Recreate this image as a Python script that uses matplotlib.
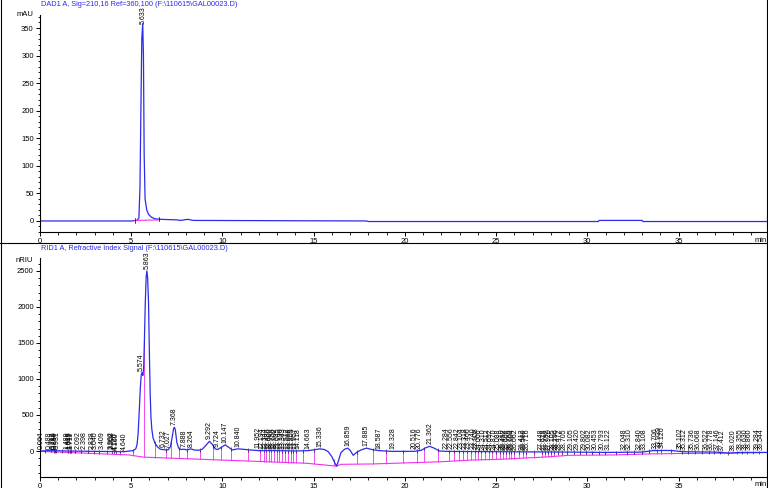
import numpy as np
import matplotlib.pyplot as plt
from matplotlib.lines import Line2D
from matplotlib.ticker import MultipleLocator

plt.rcParams['font.family'] = ['Liberation Sans', 'DejaVu Sans']

BLUE = '#2b2bea'
PINK = '#f030f0'

# --- DAD1 A trace (time in min, signal in mAU)
dad_time = [0.0, 5.0, 5.3, 5.42, 5.48, 5.53, 5.58, 5.63, 5.67, 5.71, 5.76, 5.85,
            5.95, 6.1, 6.3, 6.6, 7.5, 7.7, 8.1, 8.4, 17.9, 18.0, 30.6, 30.65,
            33.0, 33.05, 39.9]
dad_signal = [0, 0, 1, 5, 60, 200, 330, 358, 300, 120, 40, 20,
              12, 7, 4, 3, 2, 1, 3, 1, 0, -1, -1, 1,
              1, -1, -1]
dad_peaks = [5.633]
dad_base_time = [5.2, 6.55]
dad_base_signal = [1, 2]

# --- RID1 A trace (time in min, signal in nRIU)
rid_time = [0.0, 0.5, 1.5, 3.0, 4.6, 4.9, 5.1, 5.25, 5.32, 5.38, 5.44, 5.50, 5.55,
            5.59, 5.64, 5.68, 5.72, 5.77, 5.82, 5.86, 5.90, 5.95, 6.00, 6.04,
            6.08, 6.13, 6.2, 6.3, 6.45, 6.6, 6.73, 6.9, 7.03, 7.15, 7.25, 7.32,
            7.37, 7.42, 7.5, 7.6, 7.75, 7.89, 8.05, 8.26, 8.45, 8.7, 8.9, 9.1,
            9.29, 9.45, 9.6, 9.72, 9.9, 10.15, 10.35, 10.55, 10.84, 11.1, 11.5,
            12.0, 13.0, 14.0, 14.7, 15.1, 15.34, 15.6, 15.8, 16.0, 16.15, 16.26,
            16.38, 16.5, 16.7, 16.86, 17.0, 17.17, 17.35, 17.6, 17.89, 18.2,
            18.6, 19.3, 20.5, 20.9, 21.1, 21.36, 21.6, 21.9, 22.3, 25.0, 29.0,
            31.0, 33.0, 33.6, 34.3, 34.7, 35.2, 37.0, 37.8, 38.3, 39.9]
rid_signal = [0, 5, 0, -5, -10, 0, 5, 30, 90, 250, 550, 880, 1060,
              1090, 1050, 1150, 1500, 2050, 2420, 2500, 2400, 2050, 1300, 800,
              480, 300, 180, 110, 55, 25, 20, 15, 18, 60, 200, 310,
              330, 290, 120, 40, 20, 25, 15, 30, 15, 10, 25, 80,
              135, 90, 30, 20, 45, 85, 50, 15, 30, 25, 15,
              5, 5, 0, 5, 20, 30, 20, -10, -80, -160, -210,
              -120, -20, 25, 40, 10, -60, -20, 15, 40, 20,
              5, -5, -5, 10, 40, 65, 40, 0, -5, -10, -15,
              -20, -15, 5, 8, 5, -10, -15, -30, -20, -20]
rid_base_time = [0.0, 4.9, 5.66, 12.0, 14.6, 16.26, 16.5, 18.2, 21.9, 23.7,
                 25.2, 27.6, 29.0, 31.4, 33.5, 35.0, 37.5, 39.6]
rid_base_signal = [-5, -55, -85, -145, -170, -210, -185, -180, -150, -125,
                   -115, -85, -60, -55, -40, -35, -30, -22]
rid_peaks = [0.064, 0.488, 0.712, 0.789, 0.850, 0.931, 1.489, 1.615, 1.649,
             1.711, 2.092, 2.398, 2.838, 3.040, 3.409, 3.902, 3.958, 4.120,
             4.160, 4.640, 5.574, 5.863, 6.732, 7.027, 7.368, 7.888, 8.264,
             9.292, 9.724, 10.147, 10.840, 11.952, 12.194, 12.344, 12.486,
             12.600, 12.750, 12.902, 13.045, 13.190, 13.343, 13.512, 13.668,
             13.809, 13.957, 14.118, 14.663, 15.336, 16.859, 17.885, 18.587,
             19.328, 20.516, 20.776, 21.362, 22.284, 22.556, 22.842, 23.104,
             23.318, 23.466, 23.740, 23.908, 24.066, 24.310, 24.512, 24.692,
             24.870, 25.088, 25.310, 25.452, 25.608, 25.760, 25.904, 26.062,
             26.412, 26.560, 26.716, 27.448, 27.618, 27.792, 27.920, 28.105,
             28.296, 28.472, 28.705, 29.105, 29.420, 29.802, 30.082, 30.453,
             30.793, 31.122, 32.048, 32.310, 32.840, 33.108, 33.706, 33.939,
             34.120, 35.102, 35.312, 35.736, 36.068, 36.522, 36.778, 37.146,
             37.412, 38.020, 38.355, 38.630, 38.860, 39.284, 39.544]

fig = plt.figure(figsize=(7.68, 4.88), dpi=100)
W, H = 768, 488
ax1 = fig.add_axes([40 / W, 1 - 232 / H, 727 / W, 217 / H])
ax2 = fig.add_axes([40 / W, 1 - 477 / H, 727 / W, 219 / H])


def style(ax, ymin, ymax, ymajor, yminor):
    ax.set_xlim(0, 39.85)
    ax.set_ylim(ymin, ymax)
    for s in ['top', 'right']:
        ax.spines[s].set_visible(False)
    for s in ['left', 'bottom']:
        ax.spines[s].set_linewidth(0.8)
    ax.xaxis.set_major_locator(MultipleLocator(5))
    ax.xaxis.set_minor_locator(MultipleLocator(1))
    ax.yaxis.set_major_locator(MultipleLocator(ymajor))
    ax.yaxis.set_minor_locator(MultipleLocator(yminor))
    ax.set_xticks(range(0, 40, 5))
    ax.tick_params(which='major', length=3, width=0.7, labelsize=5.5, pad=1.5)
    ax.tick_params(which='minor', length=1.8, width=0.6)
    ax.set_facecolor('none')


def label_peaks(ax, time, signal, peaks):
    for rt in peaks:
        y = np.interp(rt, time, signal)
        ax.annotate(f'{rt:.3f}', (rt, y), xytext=(0, 1.5), textcoords='offset points',
                    rotation=90, ha='center', va='bottom', fontsize=5)


# top panel
style(ax1, -20, 373.6, 50, 10)
ax1.plot(dad_time, dad_signal, color=BLUE, lw=0.9)
ax1.plot(dad_base_time, dad_base_signal, color=PINK, lw=0.8)
for t in dad_base_time:
    y = np.interp(t, dad_time, dad_signal)
    ax1.plot([t, t], [y - 4, y + 4], color='k', lw=0.5)
label_peaks(ax1, dad_time, dad_signal, dad_peaks)

# bottom panel
style(ax2, -361, 2680, 500, 100)
ax2.plot(rid_base_time, rid_base_signal, color=PINK, lw=0.8)
bounds = [(a + b) / 2 for a, b in zip(rid_peaks[:-1], rid_peaks[1:])]
tops = np.interp(bounds, rid_time, rid_signal)
bots = np.interp(bounds, rid_base_time, rid_base_signal)
ax2.vlines(bounds, bots, tops, color=PINK, lw=0.6)
ax2.vlines(bounds, tops - 25, tops + 25, color='k', lw=0.4)
ax2.plot(rid_time, rid_signal, color=BLUE, lw=0.9)
label_peaks(ax2, rid_time, rid_signal, rid_peaks)

# titles, units and 'min'
fig.text(41 / W, 1 - 5 / H, r'DAD1 A, Sig=210,16 Ref=360,100 (F:\110615\GAL00023.D)',
         color=BLUE, fontsize=5.3, va='center')
fig.text(41 / W, 1 - 249 / H, r'RID1 A, Refractive Index Signal (F:\110615\GAL00023.D)',
         color=BLUE, fontsize=5.3, va='center')
fig.text(33 / W, 1 - 15 / H, 'mAU', fontsize=5.5, ha='right', va='center')
fig.text(33 / W, 1 - 261 / H, 'nRIU', fontsize=5.5, ha='right', va='center')
fig.text(767 / W, 1 - 240 / H, 'min', fontsize=5.5, ha='right', va='center')
fig.text(767 / W, 1 - 484 / H, 'min', fontsize=5.5, ha='right', va='center')

# frame lines
for x in [0.5 / W, 767 / W]:
    fig.add_artist(Line2D([x, x], [0, 1], transform=fig.transFigure, color='k', lw=0.8))
fig.add_artist(Line2D([0, 1], [1 - 243 / H] * 2, transform=fig.transFigure, color='k', lw=0.8))

fig.savefig('out.png', dpi=100)
